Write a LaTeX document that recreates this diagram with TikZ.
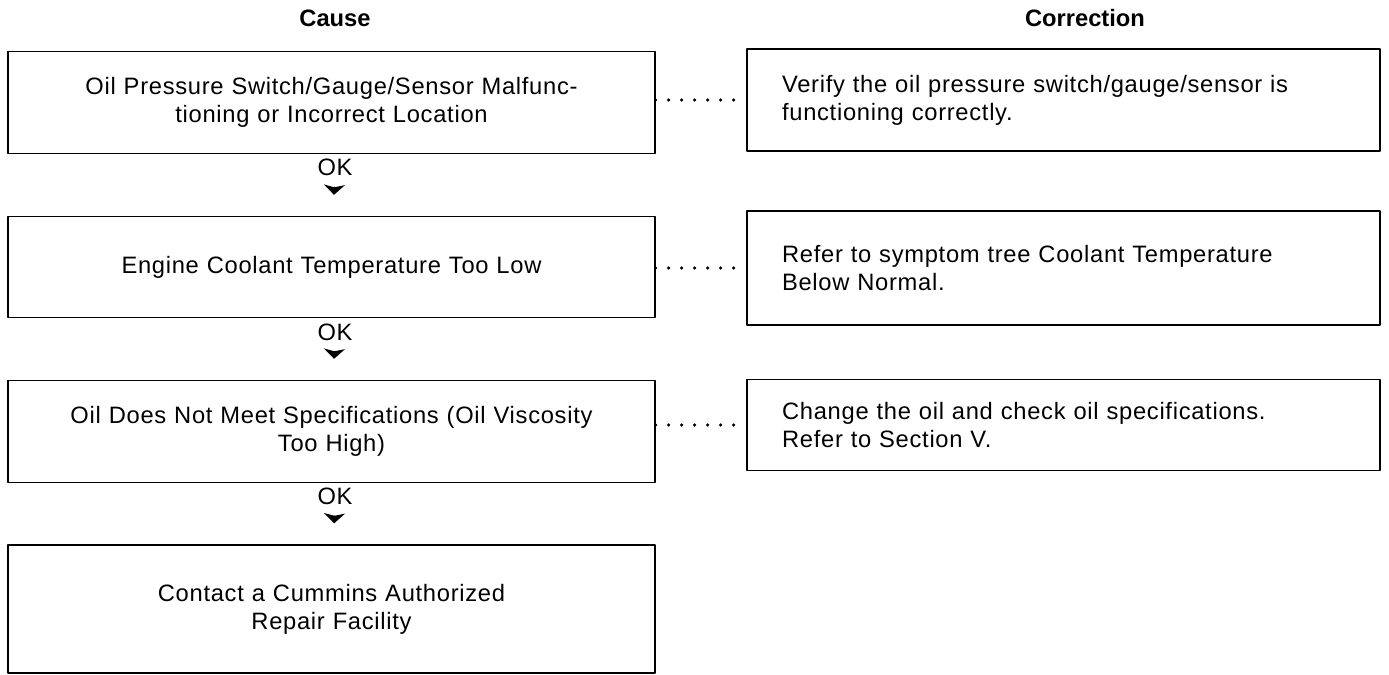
\documentclass[tikz,border=0pt]{standalone}
\usepackage{fontspec}
\setmainfont{Liberation Sans}
\newfontfamily\chartfont{Liberation Sans}[LetterSpace=3]
\usetikzlibrary{arrows.meta,positioning}

\begin{document}
\begin{tikzpicture}[x=0.02cm, y=-0.02cm, line join=round,
  causebox/.style={draw, line width=0.8pt, minimum width=12.94cm, text width=12.4cm, align=center, inner sep=0pt, font=\chartfont\fontsize{13.5}{16}\selectfont},
  fixbox/.style={draw, line width=0.8pt, minimum width=12.66cm, text width=11.26cm, align=left, inner xsep=0.7cm, inner ysep=0pt, font=\chartfont\fontsize{13.5}{16}\selectfont},
  headlabel/.style={font=\fontsize{13.5}{16}\selectfont\bfseries, inner sep=0pt},
  oklabel/.style={font=\chartfont\fontsize{13.5}{16}\selectfont, inner sep=0pt},
  okarrow/.style={-{Stealth[length=0.2cm, width=0.42cm, inset=0.05cm]}, line width=0.8pt, shorten <=0.22cm, shorten >=0.42cm},
  dotlink/.style={line width=2pt, line cap=round, dash pattern=on 0pt off 7.4pt}]
\useasboundingbox (0,0) rectangle (1389,675);
\node[headlabel] (hcause) at (335,18) {Cause};
\node[headlabel] (hfix) at (1085,18) {Correction};
\node[causebox, minimum height=2.04cm] (c1) at (331.5,102.5) {Oil Pressure Switch/Gauge/Sensor Malfunc-\\tioning or Incorrect Location};
\node[causebox, minimum height=2.02cm] (c2) at (331.5,267) {Engine Coolant Temperature Too Low};
\node[causebox, minimum height=2.04cm] (c3) at (331.5,431.5) {Oil Does Not Meet Specifications (Oil Viscosity\\Too High)};
\node[causebox, minimum height=2.56cm] (c4) at (331.5,609) {Contact a Cummins Authorized\\Repair Facility};
\node[fixbox, minimum height=2.04cm] (r1) at (1063.5,100) {Verify the oil pressure switch/gauge/sensor is\\functioning correctly.};
\node[fixbox, minimum height=2.28cm] (r2) at (1063.5,268) {Refer to symptom tree Coolant Temperature\\Below Normal.};
\node[fixbox, minimum height=1.82cm] (r3) at (1063.5,425) {Change the oil and check oil specifications.\\Refer to Section V.};
\node[oklabel] (ok1) at (335,167) {OK};
\node[oklabel] (ok2) at (335,332) {OK};
\node[oklabel] (ok3) at (335,496) {OK};
\draw[okarrow] (ok1) -- (c2);
\draw[okarrow] (ok2) -- (c3);
\draw[okarrow] (ok3) -- (c4);
\draw[dotlink] (r1.west -| c1.east) -- (r1.west);
\draw[dotlink] (r2.west -| c2.east) -- (r2.west);
\draw[dotlink] (r3.west -| c3.east) -- (r3.west);
\end{tikzpicture}
\end{document}
